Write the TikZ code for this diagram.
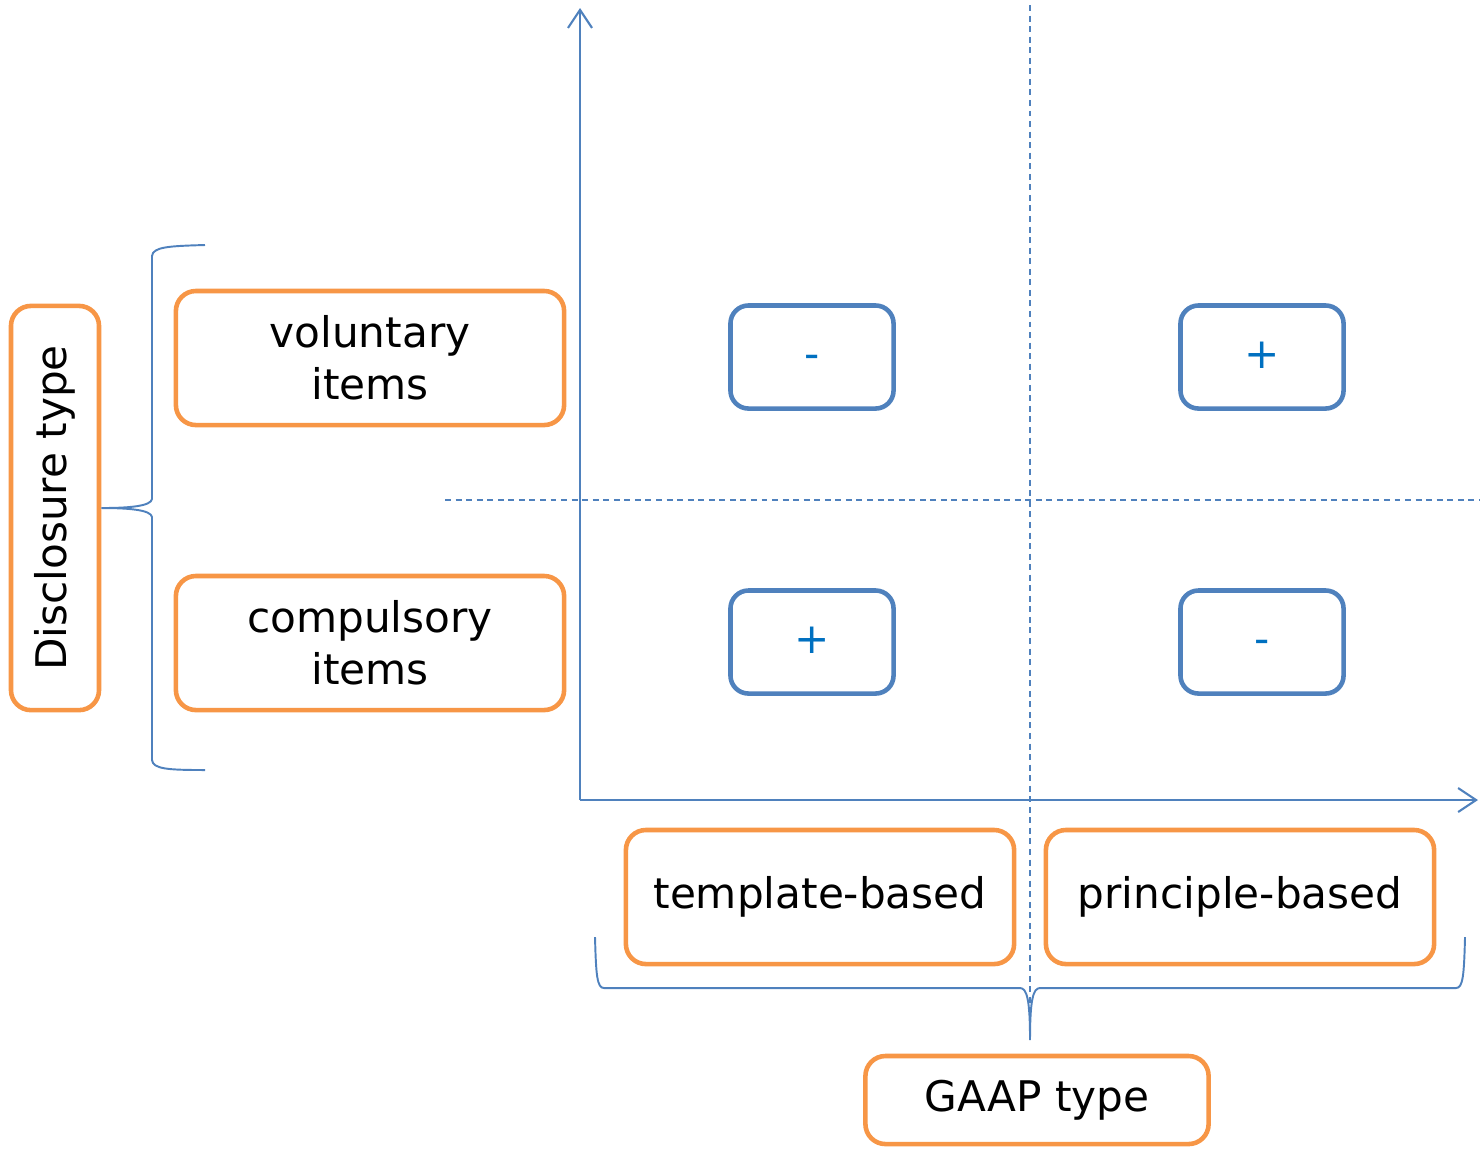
\documentclass[tikz,border=0pt]{standalone}
\usepackage{fontspec}
\setmainfont{DejaVu Sans}
\usetikzlibrary{arrows.meta}
\definecolor{gaap_orange}{RGB}{247, 150, 70}
\definecolor{gaap_blue}{RGB}{79, 129, 189}
\definecolor{sign_blue}{RGB}{0, 112, 192}
\tikzstyle{ob}=[rectangle,rounded corners=0.2cm,draw=gaap_orange,fill=white,
  line width=1.3pt,inner sep=0pt,minimum width=3.88cm,minimum height=1.34cm,
  align=center,font=\fontsize{12}{14.8}\selectfont]
\tikzstyle{bb}=[rectangle,rounded corners=0.18cm,draw=gaap_blue,fill=white,
  line width=1.3pt,inner sep=0pt,minimum width=1.63cm,minimum height=1.03cm,
  text height=0.22cm,text depth=0cm,text=sign_blue,font=\fontsize{12}{14.8}\selectfont]
\tikzstyle{axis}=[draw=gaap_blue,line width=0.6pt,-{Straight Barb[length=1.8mm,width=2.4mm]}]
\tikzstyle{grid}=[draw=gaap_blue,line width=0.45pt,dash pattern=on 1.7pt off 1.3pt]
\tikzstyle{brace}=[draw=gaap_blue,line width=0.55pt]
\tikzstyle{none}=[]

\begin{document}
\begin{tikzpicture}[x=0.01cm,y=-0.01cm]
            \useasboundingbox (0, 0) rectangle (1480, 1153);
            \coordinate (o) at (580, 800);
            \coordinate (ytop) at (580, 8);
            \coordinate (xend) at (1478, 800);
            \coordinate (vtop) at (1030, 5);
            \coordinate (vbot) at (1030, 1040);
            \coordinate (hleft) at (445, 500);
            \coordinate (hright) at (1480, 500);
            \draw [style=grid] (vtop) to (vbot);
            \draw [style=grid] (hleft) to (hright);
            \draw [style=axis] (o) to (ytop);
            \draw [style=axis] (o) to (xend);
            \node [style=ob, rotate=90, minimum width=4.04cm, minimum height=0.88cm] (0) at (55, 508) {Disclosure type};
            \node [style=ob] (1) at (370, 358) {voluntary\\items};
            \node [style=ob] (2) at (370, 643) {compulsory\\items};
            \node [style=ob] (3) at (820, 897) {template-based};
            \node [style=ob] (4) at (1240, 897) {principle-based};
            \node [style=ob, minimum width=3.43cm, minimum height=0.88cm] (5) at (1037, 1100) {GAAP type};
            \node [style=bb] (6) at (812, 357) {-};
            \node [style=bb] (7) at (1262, 357) {+};
            \node [style=bb] (8) at (812, 642) {+};
            \node [style=bb] (9) at (1262, 642) {-};
            \draw [style=brace] (205, 245) .. controls (168, 246) and (153, 247) .. (152, 256)
              -- (152, 499) .. controls (151, 506) and (130, 508) .. (0.south)
              .. controls (130, 508) and (151, 510) .. (152, 517)
              -- (152, 760) .. controls (153, 769) and (168, 770) .. (205, 770);
            \draw [style=brace] (595, 937) .. controls (596, 975) and (597, 988) .. (604, 988)
              -- (1020, 988) .. controls (1027, 988) and (1030, 1000) .. (vbot)
              .. controls (1030, 1000) and (1033, 988) .. (1040, 988)
              -- (1456, 988) .. controls (1463, 988) and (1464, 975) .. (1465, 937);
    \end{tikzpicture}
\end{document}
